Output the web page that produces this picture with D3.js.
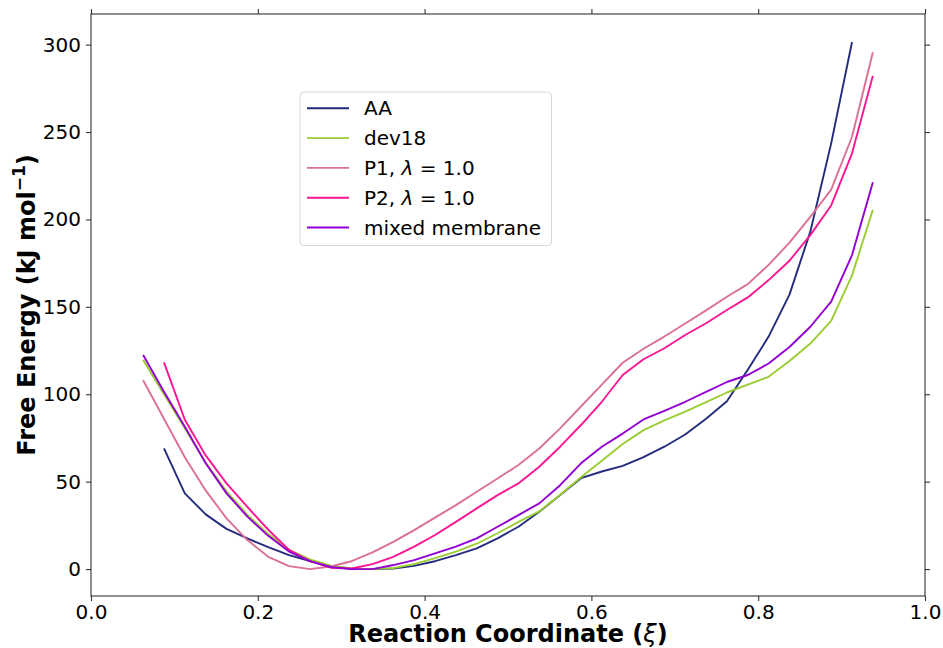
<!DOCTYPE html>
<html>
<head>
<meta charset="utf-8">
<script src="https://cdn.jsdelivr.net/npm/d3@7"></script>
<style>
  body { margin:0; background:#fff; }
  svg text { font-family:"DejaVu Sans", sans-serif; fill:#000; }
</style>
</head>
<body>
<svg id="chart" width="943" height="648"></svg>
<script>
// reaction coordinate sample points
const xi = [0.0625,0.0875,0.1125,0.1375,0.1625,0.1875,0.2125,0.2375,0.2625,0.2875,
            0.3125,0.3375,0.3625,0.3875,0.4125,0.4375,0.4625,0.4875,0.5125,0.5375,
            0.5625,0.5875,0.6125,0.6375,0.6625,0.6875,0.7125,0.7375,0.7625,0.7875,
            0.8125,0.8375,0.8625,0.8875,0.9125,0.9375];

// AA and P2 start at the second point, AA stops one point early
const aa    = [69,43.3,31.3,23,17.5,12.5,8,4.6,1.7,0.2,0,0.3,1.8,4.5,8,11.8,17.6,24.2,32.8,42.3,
               52,55.8,59,64,70,77,86,96,114,133,157,193,243.5,301.5];
const dev18 = [119.6,100,80.5,61,44.5,31,20,11,5.5,2,0.3,0,0.6,2.8,6.3,10,14.5,20.5,27,33,
               42.5,52.5,62,71.5,79.5,85,90,95.5,101,105.5,110,119,129,142,168,205.5];
const p1    = [108,86,64,45,29,16.6,7,1.7,0,1.5,4.5,9.5,15.6,22.3,29.4,36.6,44.2,51.8,59.5,69,
               80.5,93,105.5,118,126,133,140.5,148,155.8,163,174,186.7,201.5,217,247.3,295.6];
const p2    = [118.2,85.4,65,49,35.6,22.5,11,4.5,0.8,0.3,2.8,7,12.8,19.5,27,34.7,42.3,49,58.5,
               70,82.4,95.7,111,120,126.3,133.9,140.6,148.2,155.4,165.3,176.4,191,208,237.8,282.2];
const mixed = [122.4,101.4,81.4,60.5,43.3,30,19,10,4.5,1.2,0,0,2.3,5.1,9,12.8,17.6,24.2,30.9,37.6,
               48,60.5,70,77.5,85.6,90.5,95.7,101.4,107,111,117.6,127,138.6,153,179.6,221.2];

const seriesNames  = ['AA','dev18','P1','P2','mixed membrane'];
const seriesColors = ['#232b7e','#9acd32','#db7093','#ff1493','#9400d3'];

const xTicks = [0,0.2,0.4,0.6,0.8,1.0];
const yTicks = [0,50,100,150,200,250,300];

const W=943, H=648;
const m={left:91, right:18, top:14, bottom:52};

const svg=d3.select('#chart');
const x=d3.scaleLinear().domain([0,1]).range([m.left,W-m.right]);
const y=d3.scaleLinear().domain([-15.4,317.5]).range([H-m.bottom,m.top]);

const series=[
  {name:'AA',    vals:aa,    off:1},
  {name:'dev18', vals:dev18, off:0},
  {name:'P1',    vals:p1,    off:0},
  {name:'P2',    vals:p2,    off:1},
  {name:'mixed membrane', vals:mixed, off:0}
];

const line=d3.line().x(d=>x(d[0])).y(d=>y(d[1]));

svg.append('g').selectAll('path').data(series)
   .join('path')
   .attr('d', s => line(s.vals.map((v,i)=>[xi[i+s.off],v])))
   .attr('fill','none')
   .attr('stroke',(s,i)=>seriesColors[i])
   .attr('stroke-width',1.9)
   .attr('stroke-linejoin','round');

// axes, ticks on all four sides
const fmtX=d3.format('.1f');
const axB=svg.append('g').attr('transform',`translate(0,${H-m.bottom})`)
   .call(d3.axisBottom(x).tickValues(xTicks).tickFormat(fmtX).tickSize(5).tickPadding(3.5));
const axT=svg.append('g').attr('transform',`translate(0,${m.top})`)
   .call(d3.axisTop(x).tickValues(xTicks).tickFormat('').tickSize(5));
const axL=svg.append('g').attr('transform',`translate(${m.left},0)`)
   .call(d3.axisLeft(y).tickValues(yTicks).tickSize(5).tickPadding(5));
const axR=svg.append('g').attr('transform',`translate(${W-m.right},0)`)
   .call(d3.axisRight(y).tickValues(yTicks).tickFormat('').tickSize(5));

[axB,axT,axL,axR].forEach(a=>{
  a.select('.domain').remove();
  a.selectAll('.tick line').attr('stroke','#333').attr('stroke-width',1.1);
  a.selectAll('text').attr('font-size',20).attr('font-family','DejaVu Sans').attr('fill','#000');
});
// spines as a plain box
svg.append('rect')
   .attr('x',m.left).attr('y',m.top)
   .attr('width',W-m.left-m.right).attr('height',H-m.top-m.bottom)
   .attr('fill','none').attr('stroke','#333').attr('stroke-width',1.1);

// axis labels
const xl=svg.append('text')
   .attr('x',(m.left+W-m.right)/2).attr('y',642)
   .attr('text-anchor','middle').attr('font-size',24).attr('font-weight','bold');
xl.append('tspan').text('Reaction Coordinate (');
xl.append('tspan').text('ξ').attr('font-style','italic').attr('font-weight','normal');
xl.append('tspan').text(')');

const yl=svg.append('text')
   .attr('transform',`translate(35,${(m.top+H-m.bottom)/2}) rotate(-90)`)
   .attr('text-anchor','middle').attr('font-size',24).attr('font-weight','bold');
yl.append('tspan').text('Free Energy (kJ mol');
yl.append('tspan').text('−1').attr('font-size',17).attr('dy',-10);
yl.append('tspan').text(')').attr('dy',10);

// legend
const lg=svg.append('g').attr('transform','translate(300,92)');
lg.append('rect').attr('width',251.5).attr('height',153.5).attr('rx',4)
   .attr('fill','#fff').attr('fill-opacity',0.8)
   .attr('stroke','#d6d6d6').attr('stroke-width',1);
const labels=['AA','dev18','P1, λ = 1.0','P2, λ = 1.0','mixed membrane'];
const row=lg.selectAll('g.row').data(labels).join('g')
   .attr('class','row')
   .attr('transform',(d,i)=>`translate(0,${16.3+i*29.8})`);
row.append('line').attr('x1',7).attr('x2',49)
   .attr('stroke',(d,i)=>seriesColors[i]).attr('stroke-width',1.9);
row.each(function(d){
  const t=d3.select(this).append('text').attr('x',64).attr('y',7).attr('font-size',20);
  if (d.includes('λ')) {
    const parts=d.split('λ');
    t.append('tspan').text(parts[0]);
    t.append('tspan').text('λ').attr('font-style','italic');
    t.append('tspan').text(parts[1]);
  } else t.text(d);
});
</script>
</body>
</html>
